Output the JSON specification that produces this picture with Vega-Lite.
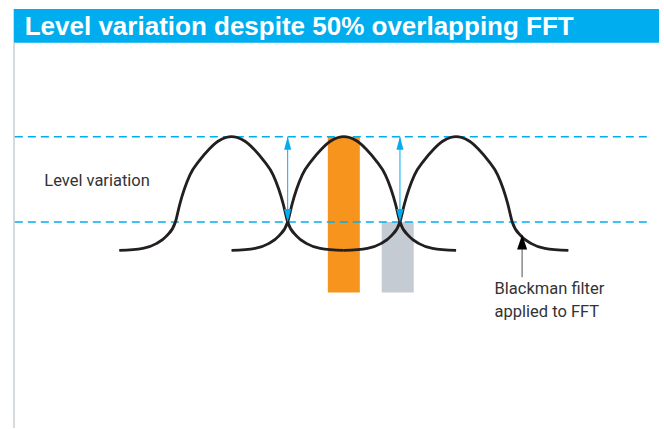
{
  "$schema": "https://vega.github.io/schema/vega-lite/v6.json",
  "width": 664,
  "height": 429,
  "padding": 0,
  "autosize": {"type": "fit", "contains": "padding"},
  "background": "white",
  "config": {"view": {"stroke": null}, "axis": {"disable": true}},
  "datasets": {
    "curves": [
      {"curve": "1", "f": 0.0, "level": 0.0}, {"curve": "1", "f": 0.21, "level": 0.018}, {"curve": "1", "f": 0.33, "level": 0.06},
      {"curve": "1", "f": 0.42, "level": 0.125}, {"curve": "1", "f": 0.5, "level": 0.25}, {"curve": "1", "f": 0.54, "level": 0.41},
      {"curve": "1", "f": 0.58, "level": 0.54}, {"curve": "1", "f": 0.63, "level": 0.665}, {"curve": "1", "f": 0.71, "level": 0.785},
      {"curve": "1", "f": 0.8, "level": 0.89}, {"curve": "1", "f": 0.88, "level": 0.96}, {"curve": "1", "f": 0.95, "level": 0.993},
      {"curve": "1", "f": 1.0, "level": 1.0}, {"curve": "1", "f": 1.05, "level": 0.993}, {"curve": "1", "f": 1.12, "level": 0.96},
      {"curve": "1", "f": 1.2, "level": 0.89}, {"curve": "1", "f": 1.29, "level": 0.785}, {"curve": "1", "f": 1.37, "level": 0.665},
      {"curve": "1", "f": 1.42, "level": 0.54}, {"curve": "1", "f": 1.46, "level": 0.41}, {"curve": "1", "f": 1.5, "level": 0.25},
      {"curve": "1", "f": 1.58, "level": 0.125}, {"curve": "1", "f": 1.67, "level": 0.06}, {"curve": "1", "f": 1.79, "level": 0.018},
      {"curve": "1", "f": 2.0, "level": 0.0},
      {"curve": "2", "f": 1.0, "level": 0.0}, {"curve": "2", "f": 1.21, "level": 0.018}, {"curve": "2", "f": 1.33, "level": 0.06},
      {"curve": "2", "f": 1.42, "level": 0.125}, {"curve": "2", "f": 1.5, "level": 0.25}, {"curve": "2", "f": 1.54, "level": 0.41},
      {"curve": "2", "f": 1.58, "level": 0.54}, {"curve": "2", "f": 1.63, "level": 0.665}, {"curve": "2", "f": 1.71, "level": 0.785},
      {"curve": "2", "f": 1.8, "level": 0.89}, {"curve": "2", "f": 1.88, "level": 0.96}, {"curve": "2", "f": 1.95, "level": 0.993},
      {"curve": "2", "f": 2.0, "level": 1.0}, {"curve": "2", "f": 2.05, "level": 0.993}, {"curve": "2", "f": 2.12, "level": 0.96},
      {"curve": "2", "f": 2.2, "level": 0.89}, {"curve": "2", "f": 2.29, "level": 0.785}, {"curve": "2", "f": 2.37, "level": 0.665},
      {"curve": "2", "f": 2.42, "level": 0.54}, {"curve": "2", "f": 2.46, "level": 0.41}, {"curve": "2", "f": 2.5, "level": 0.25},
      {"curve": "2", "f": 2.58, "level": 0.125}, {"curve": "2", "f": 2.67, "level": 0.06}, {"curve": "2", "f": 2.79, "level": 0.018},
      {"curve": "2", "f": 3.0, "level": 0.0},
      {"curve": "3", "f": 2.0, "level": 0.0}, {"curve": "3", "f": 2.21, "level": 0.018}, {"curve": "3", "f": 2.33, "level": 0.06},
      {"curve": "3", "f": 2.42, "level": 0.125}, {"curve": "3", "f": 2.5, "level": 0.25}, {"curve": "3", "f": 2.54, "level": 0.41},
      {"curve": "3", "f": 2.58, "level": 0.54}, {"curve": "3", "f": 2.63, "level": 0.665}, {"curve": "3", "f": 2.71, "level": 0.785},
      {"curve": "3", "f": 2.8, "level": 0.89}, {"curve": "3", "f": 2.88, "level": 0.96}, {"curve": "3", "f": 2.95, "level": 0.993},
      {"curve": "3", "f": 3.0, "level": 1.0}, {"curve": "3", "f": 3.05, "level": 0.993}, {"curve": "3", "f": 3.12, "level": 0.96},
      {"curve": "3", "f": 3.2, "level": 0.89}, {"curve": "3", "f": 3.29, "level": 0.785}, {"curve": "3", "f": 3.37, "level": 0.665},
      {"curve": "3", "f": 3.42, "level": 0.54}, {"curve": "3", "f": 3.46, "level": 0.41}, {"curve": "3", "f": 3.5, "level": 0.25},
      {"curve": "3", "f": 3.58, "level": 0.125}, {"curve": "3", "f": 3.67, "level": 0.06}, {"curve": "3", "f": 3.79, "level": 0.018},
      {"curve": "3", "f": 4.0, "level": 0.0}
    ],
    "bars": [
      {"name": "peak", "f": 2.0, "level": 1.0},
      {"name": "crossing", "f": 2.48, "level": 0.25}
    ],
    "levels": [{"level": 1.0}, {"level": 0.25}],
    "arrows": [
      {"f": 1.5, "low": 0.25, "high": 1.0},
      {"f": 2.5, "low": 0.25, "high": 1.0}
    ],
    "heads": [
      {"f": 1.5, "level": 1.0, "dir": "up"},
      {"f": 2.5, "level": 1.0, "dir": "up"},
      {"f": 1.5, "level": 0.25, "dir": "down"},
      {"f": 2.5, "level": 0.25, "dir": "down"}
    ],
    "one": [{"id": 1}]
  },
  "layer": [
    {
      "data": {"name": "one"},
      "mark": {"type": "rect", "color": "#00adef"},
      "encoding": {
        "x": {"datum": -0.94, "type": "quantitative", "scale": {"domain": [-1.0175, 4.807], "nice": false, "zero": false}, "axis": null},
        "x2": {"datum": 4.807},
        "y": {"datum": 2.123, "type": "quantitative", "scale": {"domain": [-1.5614, 2.2018], "nice": false, "zero": false}, "axis": null},
        "y2": {"datum": 1.825}
      }
    },
    {
      "data": {"name": "one"},
      "mark": {"type": "text", "text": "Level variation despite 50% overlapping FFT", "font": "Liberation Sans", "fontWeight": "bold", "fontSize": 26, "color": "white", "align": "left", "baseline": "alphabetic"},
      "encoding": {
        "x": {"datum": -0.842, "type": "quantitative"},
        "y": {"datum": 1.895, "type": "quantitative"}
      }
    },
    {
      "data": {"name": "one"},
      "mark": {"type": "rule", "color": "#c9cfd4", "strokeWidth": 1.5},
      "encoding": {
        "x": {"datum": -0.937, "type": "quantitative"},
        "y": {"datum": 1.825, "type": "quantitative"},
        "y2": {"datum": -1.5614}
      }
    },
    {
      "data": {"name": "bars"},
      "mark": {"type": "bar", "width": 32},
      "encoding": {
        "x": {"field": "f", "type": "quantitative"},
        "y": {"field": "level", "type": "quantitative"},
        "y2": {"datum": -0.37},
        "color": {"field": "name", "type": "nominal", "scale": {"domain": ["peak", "crossing"], "range": ["#f7941d", "#c4cbd2"]}, "legend": null}
      }
    },
    {
      "data": {"name": "levels"},
      "mark": {"type": "rule", "color": "#00aeef", "strokeWidth": 1.5, "strokeDash": [8, 5]},
      "encoding": {
        "y": {"field": "level", "type": "quantitative"},
        "x": {"datum": -0.93},
        "x2": {"datum": 4.71}
      }
    },
    {
      "data": {"name": "arrows"},
      "mark": {"type": "rule", "color": "#00aeef", "strokeWidth": 1},
      "encoding": {
        "x": {"field": "f", "type": "quantitative"},
        "y": {"field": "low", "type": "quantitative"},
        "y2": {"field": "high"}
      }
    },
    {
      "data": {"name": "curves"},
      "mark": {"type": "line", "color": "#231f20", "strokeWidth": 2.8, "interpolate": "monotone"},
      "encoding": {
        "x": {"field": "f", "type": "quantitative"},
        "y": {"field": "level", "type": "quantitative"},
        "detail": {"field": "curve"}
      }
    },
    {
      "data": {"name": "heads"},
      "mark": {"type": "point", "filled": true, "color": "#00aeef", "size": 169, "opacity": 1},
      "encoding": {
        "x": {"field": "f", "type": "quantitative"},
        "y": {"field": "level", "type": "quantitative"},
        "shape": {"field": "dir", "type": "nominal", "scale": {"domain": ["up", "down"], "range": ["M0,0L0.55,2L-0.55,2Z", "M0,0L0.55,-2L-0.55,-2Z"]}, "legend": null}
      }
    },
    {
      "data": {"name": "one"},
      "mark": {"type": "rule", "color": "#8a8a8a", "strokeWidth": 1.5},
      "encoding": {
        "x": {"datum": 3.588, "type": "quantitative"},
        "y": {"datum": 0.05, "type": "quantitative"},
        "y2": {"datum": -0.237}
      }
    },
    {
      "data": {"name": "one"},
      "mark": {"type": "point", "filled": true, "color": "#000000", "size": 225, "opacity": 1},
      "encoding": {
        "x": {"datum": 3.588, "type": "quantitative"},
        "y": {"datum": 0.14, "type": "quantitative"},
        "shape": {"value": "M0,0L0.667,2L-0.667,2Z"}
      }
    },
    {
      "data": {"name": "one"},
      "mark": {"type": "text", "text": "Level variation", "font": "Roboto", "fontSize": 16.5, "color": "#333333", "align": "left", "baseline": "alphabetic"},
      "encoding": {
        "x": {"datum": -0.668, "type": "quantitative"},
        "y": {"datum": 0.57, "type": "quantitative"}
      }
    },
    {
      "data": {"name": "one"},
      "mark": {"type": "text", "text": ["Blackman filter", "applied to FFT"], "font": "Roboto", "fontSize": 16.5, "lineHeight": 23, "color": "#333333", "align": "left", "baseline": "alphabetic"},
      "encoding": {
        "x": {"datum": 3.342, "type": "quantitative"},
        "y": {"datum": -0.386, "type": "quantitative"}
      }
    }
  ]
}
